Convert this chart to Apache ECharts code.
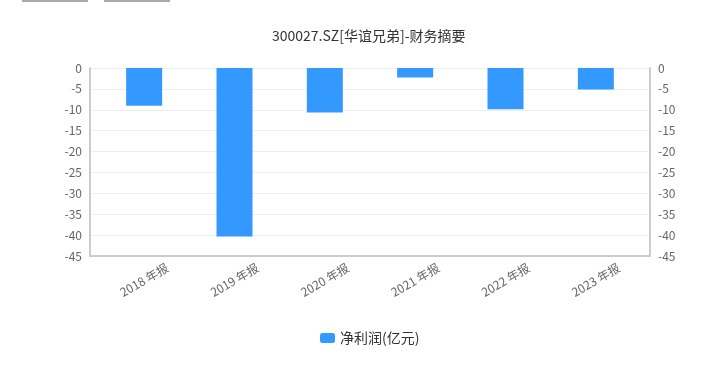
<!DOCTYPE html>
<html>
<head>
<meta charset="utf-8">
<script src="https://cdn.jsdelivr.net/npm/echarts@6/dist/echarts.min.js"></script>
<style>html,body{margin:0;padding:0;background:#fff;}#c{width:718px;height:369px;}</style>
</head>
<body>
<div id="c"></div>
<script>
const categories = ['2018 年报', '2019 年报', '2020 年报', '2021 年报', '2022 年报', '2023 年报'];
const netProfit = [-9.05, -40.35, -10.65, -2.25, -9.85, -5.15];
const seriesName = '净利润(亿元)';
const titleText = '300027.SZ[华谊兄弟]-财务摘要';
const yMin = -45, yMax = 0, yStep = 5;

const font = '"Noto Sans CJK SC", "Noto Sans", sans-serif';
const chart = echarts.init(document.getElementById('c'));
const yAxisCommon = {
  type: 'value', min: yMin, max: yMax, interval: yStep, gridIndex: 0,
  axisLine: { show: true, lineStyle: { color: '#ccc', width: 2 } },
  axisTick: { show: false },
  axisLabel: { color: '#666', fontSize: 12, fontFamily: font },
  splitLine: { show: true, lineStyle: { color: '#eee' } }
};
chart.setOption({
  animation: false,
  title: { text: titleText, left: 267, top: 24,
    textStyle: { color: '#333', fontSize: 14, fontWeight: 'normal', fontFamily: font } },
  legend: { bottom: 19, left: 315, itemWidth: 15, itemHeight: 10, icon: 'roundRect',
    textStyle: { color: '#333', fontSize: 14, fontFamily: font } },
  grid: [
    { left: 90, right: 68, top: 68, bottom: 113 },
    { left: 99, right: 77, top: 68, bottom: 113 }
  ],
  graphic: [
    { type: 'rect', shape: { x: 22, y: 0, width: 66, height: 2 }, style: { fill: '#aaa' } },
    { type: 'rect', shape: { x: 104, y: 0, width: 66, height: 2 }, style: { fill: '#aaa' } }
  ],
  xAxis: [
    { type: 'category', gridIndex: 0, data: categories, position: 'bottom',
      axisLine: { onZero: false, lineStyle: { color: '#ccc', width: 2 } },
      axisTick: { show: false }, axisLabel: { show: false } },
    { type: 'category', gridIndex: 1, data: categories, position: 'bottom',
      axisLine: { show: false, onZero: false },
      axisTick: { show: false },
      axisLabel: { rotate: 30, color: '#666', fontSize: 12, fontFamily: font, interval: 0,
        margin: 24, align: 'center', verticalAlign: 'middle' } }
  ],
  yAxis: [
    Object.assign({ position: 'left' }, yAxisCommon),
    Object.assign({ position: 'right' }, yAxisCommon),
    { type: 'value', gridIndex: 1, min: yMin, max: yMax, interval: yStep, show: false }
  ],
  series: [{
    name: seriesName, type: 'bar', data: netProfit, barWidth: 36,
    xAxisIndex: 1, yAxisIndex: 2,
    itemStyle: { color: '#3399ff' }
  }]
});
</script>
</body>
</html>
